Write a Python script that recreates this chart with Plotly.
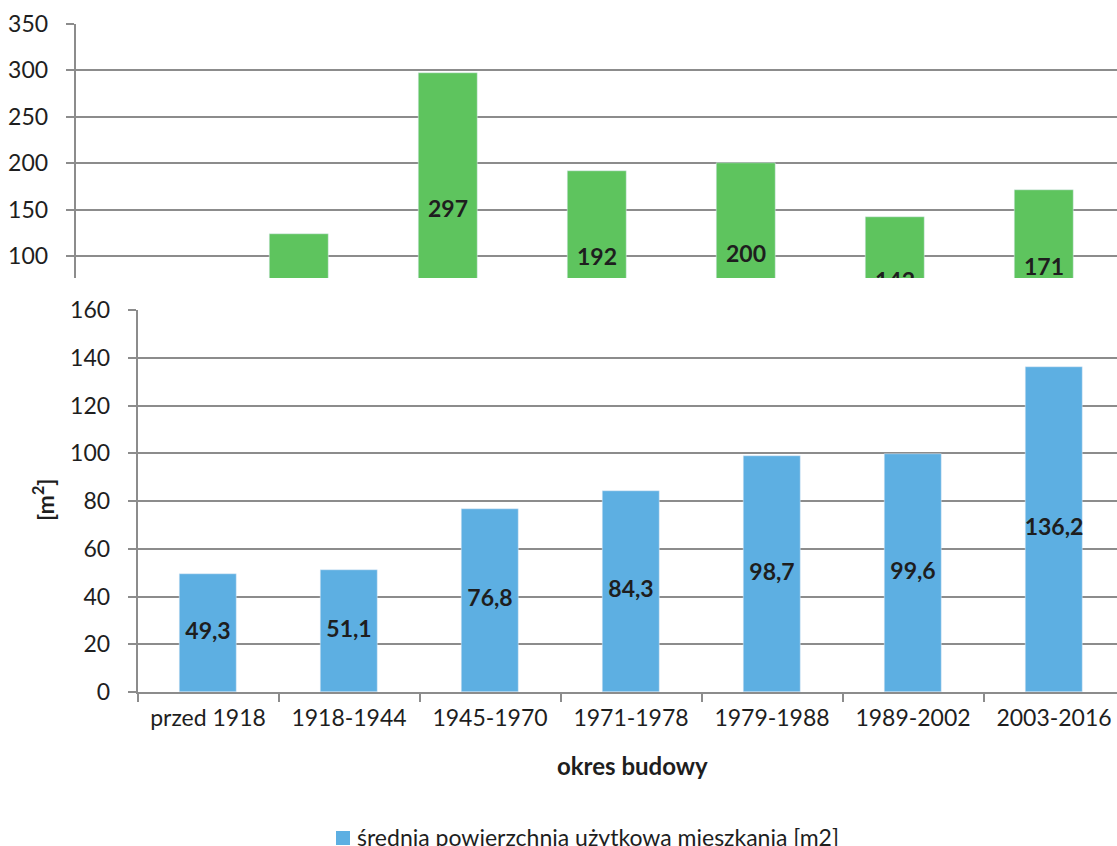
import plotly.graph_objects as go

categories = ["przed 1918", "1918-1944", "1945-1970", "1971-1978", "1979-1988", "1989-2002", "2003-2016"]
top_values = [None, 124, 297, 192, 200, 142, 171]
top_label_cats = ["1945-1970", "1971-1978", "1979-1988", "1989-2002", "2003-2016"]
top_label_values = [297, 192, 200, 142, 171]
top_labels = ["297", "192", "200", "142", "171"]
bottom_values = [49.3, 51.1, 76.8, 84.3, 98.7, 99.6, 136.2]
bottom_labels = ["49,3", "51,1", "76,8", "84,3", "98,7", "99,6", "136,2"]
top_ticks = [100, 150, 200, 250, 300, 350]
bottom_ticks = [0, 20, 40, 60, 80, 100, 120, 140, 160]
legend_name = "średnia powierzchnia użytkowa mieszkania [m2]"

GREEN = "#5EC45E"
BLUE = "#5DAFE2"
GRID = "#8C8C8C"
TXT = "#1E1E1E"
FONT = "Lato"

W, H = 1117, 846

fig = go.Figure()

# top panel (upper part of a broken axis)
fig.add_trace(go.Bar(x=categories, y=top_values, marker_color=GREEN, width=0.40,
                     xaxis="x2", yaxis="y2", showlegend=False, hoverinfo="skip"))
fig.add_trace(go.Scatter(x=top_label_cats, y=[v / 2 for v in top_label_values],
                         text=top_labels, mode="text", cliponaxis=True,
                         textfont=dict(family=FONT, size=23, color=TXT, weight="bold"),
                         xaxis="x2", yaxis="y2", showlegend=False, hoverinfo="skip"))

# bottom panel
fig.add_trace(go.Bar(x=categories, y=bottom_values, marker_color=BLUE, width=0.40,
                     name=legend_name, showlegend=False, hoverinfo="skip"))
fig.add_trace(go.Scatter(x=categories, y=[v / 2 for v in bottom_values],
                         text=bottom_labels, mode="text", cliponaxis=True,
                         textfont=dict(family=FONT, size=23, color=TXT, weight="bold"),
                         showlegend=False, hoverinfo="skip"))

x_end_bottom = -0.5 + (W - 137.5) / 141.0
x_end_top = -0.5 + (W - 75.5) / 149.0

fig.update_layout(
    width=W, height=H,
    margin=dict(l=0, r=0, t=0, b=0),
    paper_bgcolor="white", plot_bgcolor="white",
    font=dict(family=FONT, size=22, color=TXT),
    bargap=0,
    showlegend=False,
    xaxis=dict(domain=[137.5 / W, 1.0], type="category", range=[-0.5, x_end_bottom],
               anchor="y", showline=True, linecolor=GRID, linewidth=1.5,
               ticks="outside", tickson="boundaries", ticklen=8, tickcolor=GRID, tickwidth=1.5,
               showgrid=False, tickfont=dict(size=23, color=TXT), automargin=False,
               ticklabelstandoff=5),
    yaxis=dict(domain=[1 - 692 / H, 1 - 310 / H], range=[0, 160], tickvals=bottom_ticks,
               anchor="x", showline=True, linecolor=GRID, linewidth=1.5,
               ticks="outside", ticklen=8, tickcolor=GRID, tickwidth=1.5,
               showgrid=True, gridcolor=GRID, gridwidth=1.5, zeroline=False,
               tickfont=dict(size=23, color=TXT), automargin=False, ticklabelstandoff=13),
    xaxis2=dict(domain=[75.5 / W, 1.0], type="category", range=[-0.5, x_end_top],
                anchor="y2", showline=False, showticklabels=False, ticks="", showgrid=False),
    yaxis2=dict(domain=[1 - 278 / H, 1 - 24 / H], range=[76.3, 350], tickvals=top_ticks,
                anchor="x2", showline=True, linecolor=GRID, linewidth=1.5,
                ticks="outside", ticklen=8, tickcolor=GRID, tickwidth=1.5,
                showgrid=True, gridcolor=GRID, gridwidth=1.5, zeroline=False,
                tickfont=dict(size=23, color=TXT), automargin=False, ticklabelstandoff=13),
    shapes=[
        dict(type="rect", xref="paper", yref="paper",
             x0=336 / W, x1=350 / W, y0=1 - 845 / H, y1=1 - 831 / H,
             fillcolor=BLUE, line=dict(width=0)),
    ],
    annotations=[
        dict(text="<b>okres budowy</b>", x=632 / W, y=1 - 765 / H, xref="paper", yref="paper",
             showarrow=False, font=dict(size=24, color=TXT), xanchor="center", yanchor="middle"),
        dict(text="<b>[m<sup>2</sup>]</b>", x=44 / W, y=1 - 500 / H, xref="paper", yref="paper",
             showarrow=False, textangle=-90, font=dict(size=23, color=TXT),
             xanchor="center", yanchor="middle"),
        dict(text=legend_name, x=355 / W, y=1 - 837 / H, xref="paper", yref="paper",
             showarrow=False, font=dict(size=23, color=TXT), xanchor="left", yanchor="middle"),
    ],
)

fig.write_html("out.html")
